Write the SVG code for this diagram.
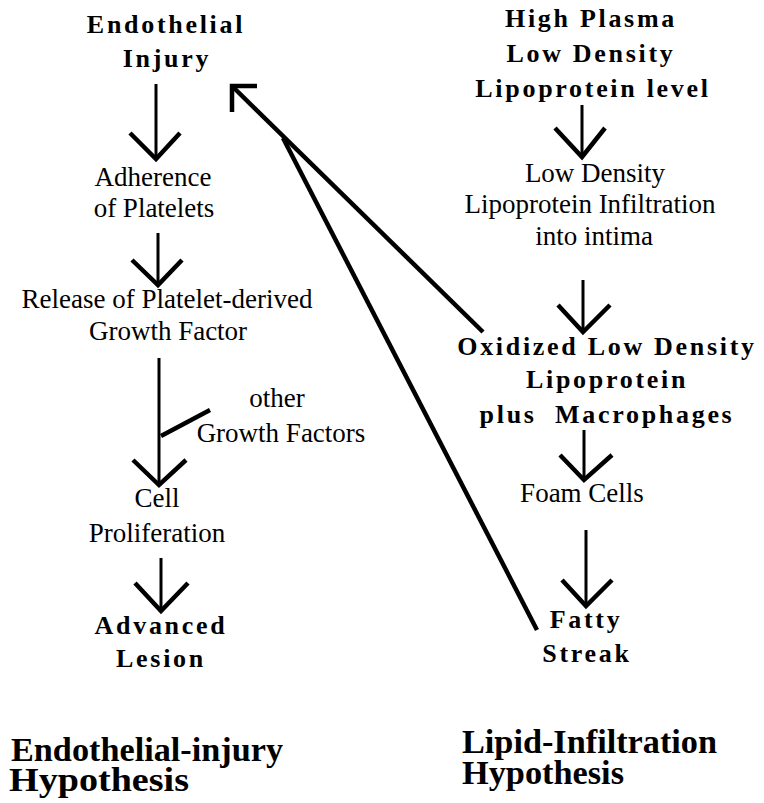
<svg xmlns="http://www.w3.org/2000/svg" width="764" height="803" viewBox="0 0 764 803">
<style>
  text { font-family: "Liberation Serif", "Times New Roman", serif; fill: #000; text-anchor: middle; }
  .r { font-size: 27px; }
  .b { font-size: 26px; font-weight: bold; letter-spacing: 2.7px; }
  .t { font-size: 33px; font-weight: bold; text-anchor: start; }
  .shaft { stroke: #000; stroke-width: 3; fill: none; stroke-linecap: butt; }
  .head { stroke: #000; stroke-width: 4.5; fill: none; stroke-linecap: butt; stroke-linejoin: miter; }
  .long { stroke: #000; stroke-width: 4.5; fill: none; stroke-linecap: butt; }
</style>
<rect width="764" height="803" fill="#fff"/>

<g id="endothelial-injury"><text class="b" x="166" y="33">Endothelial</text><text class="b" x="167" y="67">Injury</text></g>
<g id="adherence"><text class="r" x="153" y="186">Adherence</text><text class="r" x="154" y="217">of Platelets</text></g>
<g id="release-pdgf"><text class="r" x="167" y="308">Release of Platelet-derived</text><text class="r" x="168" y="340">Growth Factor</text></g>
<g id="other-growth-factors"><text class="r" x="277" y="407">other</text><text class="r" x="281" y="442">Growth Factors</text></g>
<g id="cell-proliferation"><text class="r" x="157" y="507">Cell</text><text class="r" x="157" y="542">Proliferation</text></g>
<g id="advanced-lesion"><text class="b" x="161" y="634">Advanced</text><text class="b" x="161" y="667">Lesion</text></g>

<g id="high-plasma-ldl"><text class="b" x="591" y="27">High Plasma</text><text class="b" x="591" y="62">Low Density</text><text class="b" x="593" y="97">Lipoprotein level</text></g>
<g id="ldl-infiltration"><text class="r" x="595" y="182">Low Density</text><text class="r" x="590" y="213">Lipoprotein Infiltration</text><text class="r" x="594" y="245">into intima</text></g>
<g id="oxidized-ldl"><text class="b" x="607" y="355">Oxidized Low Density</text><text class="b" x="607" y="388">Lipoprotein</text><text class="b" x="607" y="423" xml:space="preserve">plus  Macrophages</text></g>
<g id="foam-cells"><text class="r" x="582" y="502">Foam Cells</text></g>
<g id="fatty-streak"><text class="b" x="586" y="628">Fatty</text><text class="b" x="587" y="662">Streak</text></g>

<g id="title-left"><text class="t" x="11" y="761" textLength="272" lengthAdjust="spacingAndGlyphs">Endothelial-injury</text><text class="t" x="9" y="791" textLength="180" lengthAdjust="spacingAndGlyphs">Hypothesis</text></g>
<g id="title-right"><text class="t" x="462" y="753" textLength="255" lengthAdjust="spacingAndGlyphs">Lipid-Infiltration</text><text class="t" x="462" y="784" textLength="162" lengthAdjust="spacingAndGlyphs">Hypothesis</text></g>

<g id="connectors">
  <line class="shaft" x1="156" y1="84" x2="156" y2="158"/>
  <polyline class="head" points="130,133 156,159 180,133"/>
  <line class="shaft" x1="158" y1="233" x2="158" y2="283"/>
  <polyline class="head" points="132,260 158,285 182,260"/>
  <line class="shaft" x1="159" y1="358" x2="159" y2="483"/>
  <polyline class="head" points="133,460 159,485 186,460"/>
  <line class="long" x1="161" y1="436" x2="210" y2="410"/>
  <line class="shaft" x1="161" y1="558" x2="161" y2="610"/>
  <polyline class="head" points="135,583 161,611 188,583"/>

  <line class="shaft" x1="582" y1="105" x2="582" y2="155"/>
  <polyline class="head" points="555,128 582,157 605,128"/>
  <line class="shaft" x1="583" y1="280" x2="583" y2="330"/>
  <polyline class="head" points="558,305 583,332 610,305"/>
  <line class="shaft" x1="584" y1="430" x2="584" y2="478"/>
  <polyline class="head" points="560,455 584,480 612,455"/>
  <line class="shaft" x1="586" y1="530" x2="586" y2="604"/>
  <polyline class="head" points="562,580 586,606 612,580"/>

  <line class="long" x1="483" y1="332" x2="233" y2="87"/>
  <polyline class="head" points="257,86 232,86 232,112"/>
  <line class="long" x1="537" y1="630" x2="283" y2="138"/>
</g>
</svg>
